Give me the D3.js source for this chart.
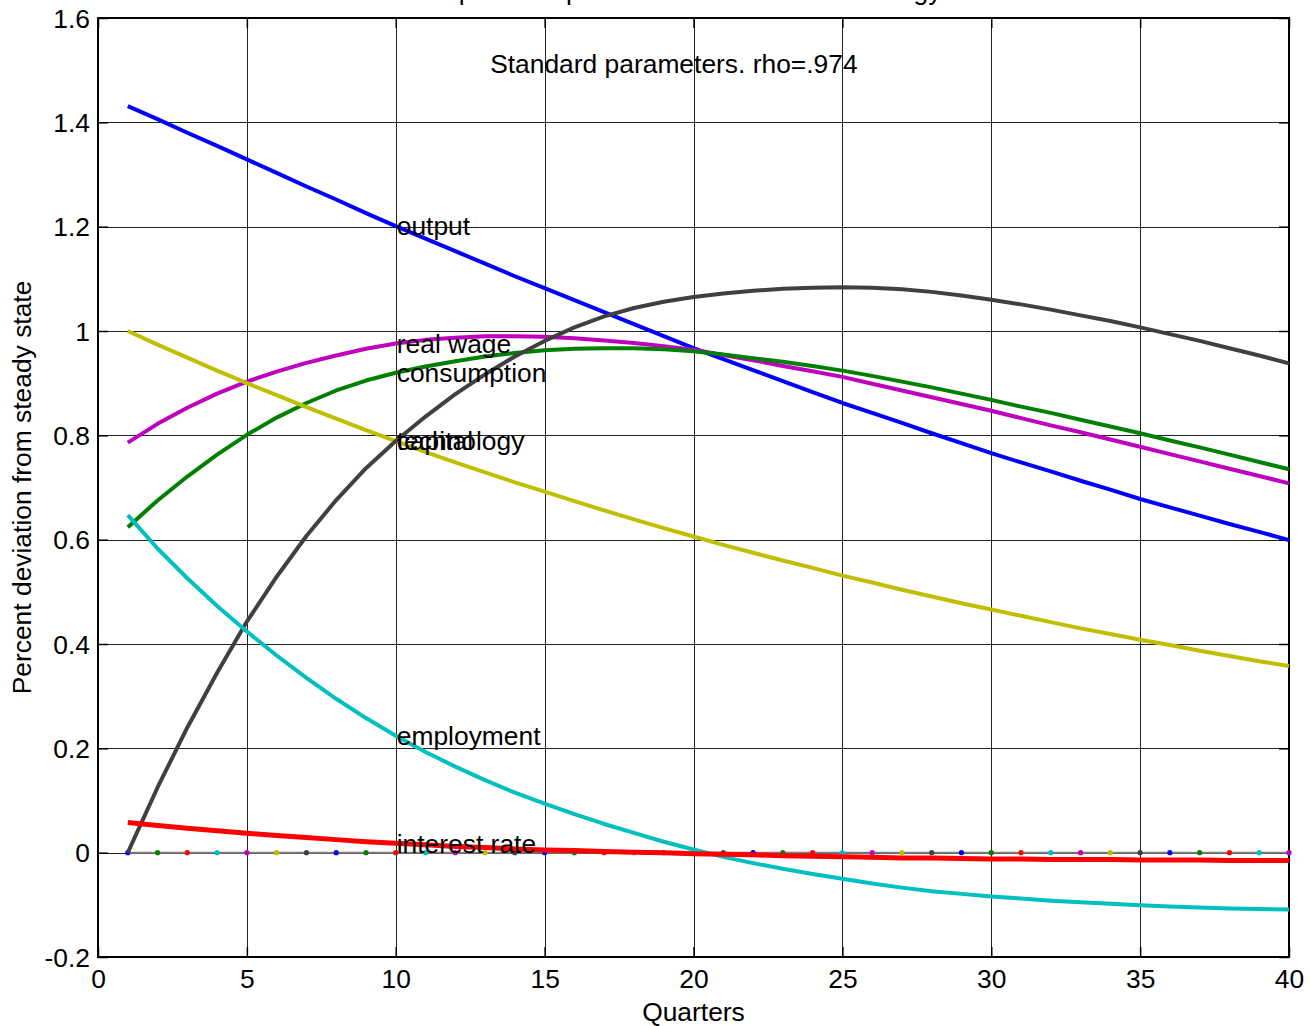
<!DOCTYPE html>
<html>
<head>
<meta charset="utf-8">
<script src="https://cdn.jsdelivr.net/npm/d3@7"></script>
<style>
  body { margin: 0; background: #fff; }
  text { font-family: "Liberation Sans", Arial, sans-serif; font-size: 26.4px; fill: #000; }
</style>
</head>
<body>
<div id="chart"></div>
<script>
// quarters after the shock
var quarters = d3.range(1, 41);

// impulse responses, percent deviation from steady state
var output = [1.431, 1.406, 1.380, 1.355, 1.329, 1.303, 1.277, 1.252, 1.226, 1.201,
    1.177, 1.153, 1.129, 1.105, 1.082, 1.059, 1.036, 1.013, 0.990, 0.967,
    0.946, 0.925, 0.904, 0.883, 0.862, 0.843, 0.824, 0.804, 0.785, 0.766,
    0.748, 0.731, 0.713, 0.696, 0.678, 0.662, 0.646, 0.630, 0.615, 0.599];
var realWage = [0.786, 0.822, 0.853, 0.880, 0.903, 0.922, 0.939, 0.953, 0.966, 0.976,
    0.983, 0.987, 0.990, 0.990, 0.989, 0.986, 0.982, 0.977, 0.971, 0.964,
    0.954, 0.944, 0.933, 0.923, 0.912, 0.899, 0.886, 0.873, 0.860, 0.847,
    0.833, 0.819, 0.806, 0.792, 0.778, 0.764, 0.750, 0.736, 0.722, 0.708];
var consumption = [0.624, 0.675, 0.721, 0.763, 0.801, 0.834, 0.862, 0.886, 0.905, 0.920,
    0.932, 0.942, 0.951, 0.958, 0.963, 0.966, 0.967, 0.967, 0.965, 0.961,
    0.955, 0.948, 0.941, 0.933, 0.924, 0.914, 0.903, 0.892, 0.880, 0.868,
    0.855, 0.843, 0.830, 0.817, 0.804, 0.790, 0.777, 0.763, 0.749, 0.735];
var technology = [1.000, 0.974, 0.949, 0.924, 0.900, 0.877, 0.854, 0.832, 0.810, 0.789,
    0.768, 0.748, 0.729, 0.710, 0.692, 0.674, 0.656, 0.639, 0.622, 0.606,
    0.590, 0.575, 0.560, 0.546, 0.531, 0.518, 0.504, 0.491, 0.478, 0.466,
    0.454, 0.442, 0.430, 0.419, 0.408, 0.398, 0.387, 0.377, 0.367, 0.358];
var capital = [0.000, 0.125, 0.240, 0.345, 0.443, 0.529, 0.607, 0.676, 0.737, 0.789,
    0.836, 0.879, 0.917, 0.951, 0.981, 1.007, 1.028, 1.044, 1.056, 1.065,
    1.072, 1.077, 1.081, 1.083, 1.084, 1.083, 1.080, 1.075, 1.068, 1.060,
    1.051, 1.041, 1.030, 1.019, 1.007, 0.994, 0.981, 0.967, 0.953, 0.938];
var employment = [0.647, 0.583, 0.526, 0.473, 0.424, 0.378, 0.335, 0.295, 0.258, 0.224,
    0.193, 0.165, 0.139, 0.115, 0.094, 0.074, 0.055, 0.038, 0.021, 0.006,
    -0.008, -0.020, -0.031, -0.041, -0.050, -0.059, -0.067, -0.074, -0.079, -0.084,
    -0.088, -0.092, -0.095, -0.098, -0.101, -0.103, -0.105, -0.107, -0.108, -0.109];
var interestRate = [0.058, 0.052, 0.047, 0.042, 0.037, 0.033, 0.029, 0.025, 0.021, 0.018,
    0.015, 0.012, 0.010, 0.007, 0.005, 0.004, 0.002, 0.001, 0.000, -0.002,
    -0.003, -0.004, -0.006, -0.007, -0.008, -0.009, -0.010, -0.010, -0.011, -0.012,
    -0.012, -0.013, -0.013, -0.013, -0.014, -0.014, -0.014, -0.015, -0.015, -0.015];

var seriesNames = ["output", "real wage", "consumption", "technology", "capital", "employment", "interest rate"];
var xTicks = [0, 5, 10, 15, 20, 25, 30, 35, 40];
var yTicks = [-0.2, 0, 0.2, 0.4, 0.6, 0.8, 1, 1.2, 1.4, 1.6];

var titleText = "Impulse responses to a shock in technology";
var noteText = "Standard parameters. rho=.974";

// matlab style colour order for the zero markers
var markerColors = ["#0000ff", "#008000", "#ff0000", "#00bfbf", "#bf00bf", "#bfbf00", "#404040"];

var series = [
    {name: seriesNames[0], values: output, color: "#0000ff", w: 4},
    {name: seriesNames[1], values: realWage, color: "#bf00bf", w: 4},
    {name: seriesNames[2], values: consumption, color: "#008000", w: 4},
    {name: seriesNames[3], values: technology, color: "#bfbf00", w: 4},
    {name: seriesNames[4], values: capital, color: "#404040", w: 4},
    {name: seriesNames[5], values: employment, color: "#00bfbf", w: 4},
    {name: seriesNames[6], values: interestRate, color: "#ff0000", w: 5}
];

// size, margin of the plot
var fullWidth = 1310, fullHeight = 1026;
var margin = {top: 18, right: 21, bottom: 69, left: 98},
    width = fullWidth - margin.left - margin.right,
    height = fullHeight - margin.top - margin.bottom;

var svg = d3.select("#chart").append("svg")
    .attr("width", fullWidth)
    .attr("height", fullHeight);

var g = svg.append("g")
    .attr("transform", "translate(" + margin.left + "," + margin.top + ")");

var x = d3.scaleLinear().domain([0, 40]).range([0, width]);
var y = d3.scaleLinear().domain([-0.2, 1.6]).range([height, 0]);

// grid
g.append("g").selectAll("line")
    .data(xTicks)
    .enter().append("line")
    .attr("x1", function(d) { return Math.round(x(d)) + 0.5; })
    .attr("x2", function(d) { return Math.round(x(d)) + 0.5; })
    .attr("y1", 0).attr("y2", height)
    .attr("stroke", "#222").attr("stroke-width", 1);

g.append("g").selectAll("line")
    .data(yTicks)
    .enter().append("line")
    .attr("y1", function(d) { return Math.round(y(d)) + 0.5; })
    .attr("y2", function(d) { return Math.round(y(d)) + 0.5; })
    .attr("x1", 0).attr("x2", width)
    .attr("stroke", "#222").attr("stroke-width", 1);

// plain hyphen for negatives, like the original
var yFormat = function(d) { return String(+d.toFixed(1)); };

// axes, ticks pointing inwards
var xAxis = g.append("g")
    .attr("transform", "translate(0," + height + ")")
    .call(d3.axisBottom(x).tickValues(xTicks).tickSizeInner(-10).tickSizeOuter(0).tickPadding(10)
        .tickFormat(function(d) { return String(d); }));
var yAxis = g.append("g")
    .call(d3.axisLeft(y).tickValues(yTicks).tickSizeInner(-10).tickSizeOuter(0).tickPadding(8)
        .tickFormat(yFormat));
g.append("g")
    .attr("transform", "translate(" + width + ",0)")
    .call(d3.axisRight(y).tickValues(yTicks).tickSizeInner(-10).tickSizeOuter(0).tickFormat(""));
g.append("g")
    .call(d3.axisTop(x).tickValues(xTicks).tickSizeInner(-10).tickSizeOuter(0).tickFormat(""));

g.selectAll(".domain").remove();
g.selectAll(".tick line").attr("stroke", "#000").attr("stroke-width", 1.5);
xAxis.selectAll("text").attr("font-size", null).attr("font-family", null).attr("dy", "0.8em");
yAxis.selectAll("text").attr("font-size", null).attr("font-family", null).attr("dy", "0.35em");

// box round the plot
g.append("rect")
    .attr("width", width).attr("height", height)
    .attr("fill", "none").attr("stroke", "#000").attr("stroke-width", 2);

// zero line with coloured markers
var line = d3.line()
    .x(function(d, i) { return x(quarters[i]); })
    .y(function(d) { return y(d); });

var zeros = quarters.map(function() { return 0; });
g.append("path")
    .attr("d", line(zeros))
    .attr("fill", "none").attr("stroke", "#7f7f7f").attr("stroke-width", 2);
g.append("g").selectAll("circle")
    .data(zeros)
    .enter().append("circle")
    .attr("cx", function(d, i) { return x(quarters[i]); })
    .attr("cy", function(d) { return y(d); })
    .attr("r", 2.6)
    .attr("fill", function(d, i) { return markerColors[i % markerColors.length]; });

// response lines
g.append("g").selectAll("path")
    .data(series)
    .enter().append("path")
    .attr("d", function(d) { return line(d.values); })
    .attr("fill", "none")
    .attr("stroke", function(d) { return d.color; })
    .attr("stroke-width", function(d) { return d.w; })
    .attr("stroke-linejoin", "round");

// labels sit on each line at quarter 10
g.append("g").selectAll("text")
    .data(series)
    .enter().append("text")
    .attr("x", x(10) + 1)
    .attr("y", function(d) { return y(d.values[9]); })
    .attr("dy", "0.35em")
    .text(function(d) { return d.name; });

g.append("text")
    .attr("x", x(13.17))
    .attr("y", y(1.512))
    .attr("dy", "0.35em")
    .text(noteText);

// title, mostly outside the window as in the original
svg.append("text")
    .attr("x", margin.left + width / 2 - 8)
    .attr("y", 0)
    .attr("text-anchor", "middle")
    .text(titleText);

// axis titles
svg.append("text")
    .attr("x", margin.left + width / 2)
    .attr("y", 1021)
    .attr("text-anchor", "middle")
    .text("Quarters");

svg.append("text")
    .attr("transform", "translate(31," + (margin.top + height / 2) + ") rotate(-90)")
    .attr("text-anchor", "middle")
    .text("Percent deviation from steady state");
</script>
</body>
</html>
